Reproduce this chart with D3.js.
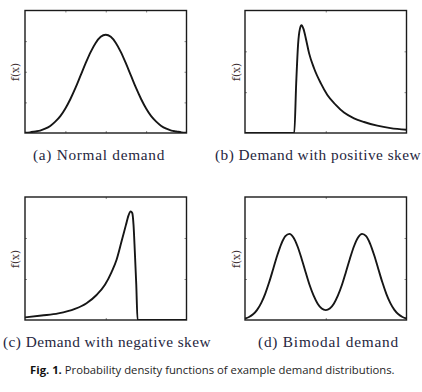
<!DOCTYPE html>
<html><head><meta charset="utf-8">
<script src="https://cdn.jsdelivr.net/npm/d3@7"></script>
<style>html,body{margin:0;padding:0;background:#fff;}svg{display:block;}</style>
</head><body>
<script>
// ---- data ----
const normalX = [0,0.25,0.5,0.75,1,1.25,1.5,1.75,2,2.25,2.5,2.75,3,3.25,3.5,3.75,4,4.25,4.5,4.75,5,5.25,5.5,5.75,6,6.25,6.5,6.75,7,7.25,7.5,7.75,8];
const normalY = [0.01,0.02,0.05,0.08,0.14,0.23,0.37,0.55,0.80,1.11,1.47,1.87,2.27,2.64,2.94,3.14,3.21,3.14,2.94,2.64,2.27,1.87,1.47,1.11,0.80,0.55,0.37,0.23,0.14,0.08,0.05,0.02,0.01];

const posSkewX = [0,30.5,31.7,32.9,34.0,35.0,36.2,37.7,39.7,42.8,46.9,51.0,56.2,61.3,67.5,73.7,81.9,90.1,100];
const posSkewY = [0,0,1.22,2.19,2.55,2.64,2.55,2.31,1.95,1.58,1.22,0.93,0.69,0.50,0.36,0.27,0.18,0.12,0.08];

const negSkewX = [0,10.3,20.6,30.9,38.1,44.3,49.5,53.6,56.7,59.8,62.5,64.1,65.4,66.4,67.2,68.0,68.9,69.7,100];
const negSkewY = [0.065,0.11,0.16,0.27,0.41,0.61,0.86,1.17,1.47,1.92,2.32,2.55,2.65,2.61,2.32,1.67,0.86,0,0];

const bimodalX = [0,2.5,5,7.5,10,12.5,15,17.5,20,22.5,25,27.5,30,32.5,35,37.5,40,42.5,45,47.5,50,52.5,55,57.5,60,62.5,65,67.5,70,72.5,75,77.5,80,82.5,85,87.5,90,92.5,95,97.5,100];
const bimodalY = [0.036,0.073,0.139,0.248,0.412,0.639,0.925,1.251,1.578,1.859,2.045,2.10,2.012,1.799,1.502,1.171,0.852,0.592,0.397,0.279,0.240,0.279,0.397,0.592,0.852,1.171,1.502,1.799,2.012,2.10,2.045,1.859,1.578,1.251,0.925,0.639,0.412,0.248,0.139,0.073,0.036];

const captions = ["(a) Normal demand","(b) Demand with positive skew","(c) Demand with negative skew","(d) Bimodal demand"];
const yLabel = "f(x)";
const xTicksA = [2,4,6], yTicksA = [1,2,3];
const xTicksB = [50], yTicksB = [1,2];
const figLabel = "Fig. 1.";
const figText = " Probability density functions of example demand distributions.";

const series = [
  {xs: normalX, ys: normalY, xDom:[0,8], yDom:[0,4], xt:xTicksA, yt:yTicksA},
  {xs: posSkewX, ys: posSkewY, xDom:[0,100], yDom:[0,3], xt:xTicksB, yt:yTicksB},
  {xs: negSkewX, ys: negSkewY, xDom:[0,100], yDom:[0,3], xt:xTicksB, yt:yTicksB},
  {xs: bimodalX, ys: bimodalY, xDom:[0,100], yDom:[0,3], xt:xTicksB, yt:yTicksB}
];

// ---- layout ----
const W = 422, H = 392;
const boxes = [
  {x0:25, x1:186.5, y0:10.5, y1:133},
  {x0:245, x1:406.5, y0:10.5, y1:133},
  {x0:25, x1:186.5, y0:197, y1:320},
  {x0:245, x1:406.5, y0:197, y1:320}
];
const capPos = [{x:33,y:160},{x:215,y:160},{x:3,y:347},{x:258,y:347}];
const capW = [132, 206, 208, 141];
const ylabPos = [{x:15,y:72},{x:236,y:72},{x:15,y:259},{x:236,y:259}];

const svg = d3.select("body").append("svg").attr("width",W).attr("height",H);

series.forEach((s,i)=>{
  const b = boxes[i];
  const x = d3.scaleLinear().domain(s.xDom).range([b.x0,b.x1]);
  const y = d3.scaleLinear().domain(s.yDom).range([b.y1,b.y0]);
  const g = svg.append("g");
  const clipId = "clip"+i;
  g.append("clipPath").attr("id",clipId).append("rect")
    .attr("x",b.x0).attr("y",b.y0-1).attr("width",b.x1-b.x0).attr("height",b.y1-b.y0+1);

  const mk = (axis, tr) => {
    const a = g.append("g").attr("transform",tr).call(axis);
    a.select(".domain").remove();
    a.selectAll(".tick line").attr("stroke","#8a8a8a").attr("stroke-width",1);
    a.selectAll("text").remove();
  };
  mk(d3.axisBottom(x).tickValues(s.xt).tickSize(-2).tickFormat(""), `translate(0,${b.y1})`);
  mk(d3.axisTop(x).tickValues(s.xt).tickSize(-2).tickFormat(""), `translate(0,${b.y0})`);
  mk(d3.axisLeft(y).tickValues(s.yt).tickSize(-2).tickFormat(""), `translate(${b.x0},0)`);
  mk(d3.axisRight(y).tickValues(s.yt).tickSize(-2).tickFormat(""), `translate(${b.x1},0)`);

  const pts = s.xs.map((v,k)=>[v,s.ys[k]]);
  const line = d3.line().x(d=>x(d[0])).y(d=>y(d[1])).curve(d3.curveMonotoneX);
  g.append("path").datum(pts).attr("d",line).attr("fill","none")
    .attr("stroke","#161616").attr("stroke-width",1.9).attr("stroke-linejoin","round")
    .attr("clip-path",`url(#${clipId})`);

  g.append("rect").attr("x",b.x0).attr("y",b.y0).attr("width",b.x1-b.x0).attr("height",b.y1-b.y0)
    .attr("fill","none").attr("stroke","#1a1a1a").attr("stroke-width",1.4);

  g.append("text").attr("transform",`translate(${ylabPos[i].x},${ylabPos[i].y}) rotate(-90)`)
    .attr("text-anchor","middle").attr("dominant-baseline","central")
    .attr("font-family","DejaVu Serif").attr("font-size",10.5).attr("fill","#3d3030").text(yLabel);

  const t = g.append("text").attr("x",capPos[i].x).attr("y",capPos[i].y)
    .attr("font-family","Liberation Serif").attr("font-size",15.3).attr("fill","#26263e")
    .text(captions[i]);
  const nw = t.node().getComputedTextLength();
  const n = captions[i].length;
  t.attr("letter-spacing", Math.max(0,(capW[i]-nw)/n));
});

const fig = svg.append("text").attr("x",30).attr("y",374)
  .attr("font-family","Open Sans").attr("font-size",10).attr("fill","#1e1e1e");
fig.append("tspan").attr("font-weight","bold").attr("fill","#111").text(figLabel);
fig.append("tspan").text(figText);
const fw = fig.node().getComputedTextLength();
fig.attr("font-size",10*365/fw);
</script>
</body></html>
